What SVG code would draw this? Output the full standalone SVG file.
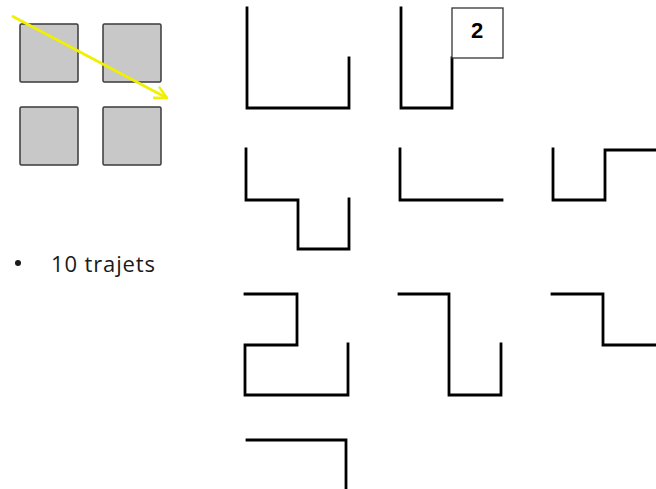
<svg xmlns="http://www.w3.org/2000/svg" width="656" height="489" viewBox="0 0 656 489">
<defs>
<style>
.sq{fill:#c8c8c8;stroke:#3a3a3a;stroke-width:1.5}
.p{fill:none;stroke:#000;stroke-width:2.8;stroke-linejoin:miter;stroke-linecap:square}
.t{font-family:"Open Sans","Liberation Sans",sans-serif;font-size:22px;fill:#1a1a1a}
</style>
<marker id="ah" viewBox="0 0 10 10" refX="9" refY="5" markerWidth="6" markerHeight="6" orient="auto" markerUnits="strokeWidth">
<path d="M1,1 L9,5 L1,9" fill="none" stroke="#f0f000" stroke-width="1.6"/>
</marker>
</defs>
<rect width="656" height="489" fill="#fff"/>
<g id="grid">
<rect class="sq" x="20" y="24" width="58" height="58" rx="1.5"/>
<rect class="sq" x="103" y="24" width="58" height="58" rx="1.5"/>
<rect class="sq" x="20" y="107" width="58" height="58" rx="1.5"/>
<rect class="sq" x="103" y="107" width="58" height="58" rx="1.5"/>
</g>
<g id="connectors">
<line x1="12" y1="16" x2="167" y2="98" stroke="#f0f000" stroke-width="2.6" marker-end="url(#ah)"/>
</g>
<g id="label">
<circle cx="18" cy="263" r="3" fill="#1a1a1a"/>
<text class="t" x="51" y="272" textLength="104" lengthAdjust="spacing">10 trajets</text>
</g>
<g id="path1"><path class="p" d="M247,8 V108 H349 V58"/></g>
<g id="path2"><path class="p" d="M401,8 V108 H452 V58"/></g>
<g id="box2">
<rect x="452" y="8" width="51" height="50" fill="#fff" stroke="#333" stroke-width="1.3"/>
<text x="477" y="38" text-anchor="middle" font-family="Liberation Sans,Arial,sans-serif" font-weight="bold" font-size="22" fill="#000">2</text>
</g>
<g id="path3"><path class="p" d="M246,149 V200 H298 V249 H349 V199"/></g>
<g id="path4"><path class="p" d="M400,149 V200 H502"/></g>
<g id="path5"><path class="p" d="M553,149 V200 H605 V150 H658"/></g>
<g id="path6"><path class="p" d="M245,294 H297 V345 H245 V395 H348 V344"/></g>
<g id="path7"><path class="p" d="M399,294 H449 V395 H501 V344"/></g>
<g id="path8"><path class="p" d="M552,294 H603 V345 H658"/></g>
<g id="path9"><path class="p" d="M247,440 H346 V490"/></g>
</svg>
